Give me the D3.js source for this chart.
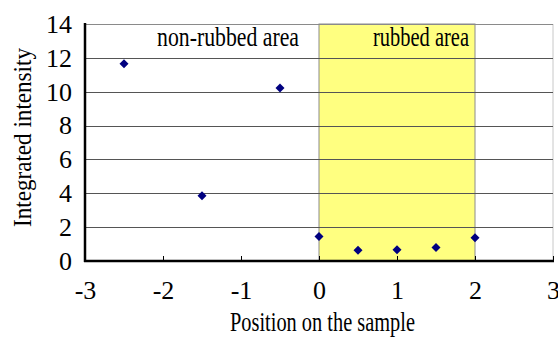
<!DOCTYPE html>
<html><head><meta charset="utf-8">
<script src="https://cdn.jsdelivr.net/npm/d3@7"></script>
<style>
html,body{margin:0;padding:0;background:#fff;}
svg text{font-family:"Liberation Serif","Times New Roman",serif;fill:#000;}
</style></head>
<body>
<svg id="chart" width="558" height="338"></svg>
<script>
const positions = [-2.5, -1.5, -0.5, 0, 0.5, 1, 1.5, 2];
const intensities = [11.65, 3.85, 10.22, 1.45, 0.63, 0.67, 0.8, 1.38];
const xTicks = [-3, -2, -1, 0, 1, 2, 3];
const yTicks = [0, 2, 4, 6, 8, 10, 12, 14];
const rubbedRange = [0, 2];
const regionLabels = ["non-rubbed area", "rubbed area"];

const svg = d3.select("#chart");
const m = {left: 85, right: 553, top: 24, bottom: 261};
const x = d3.scaleLinear().domain([-3, 3]).range([m.left, m.right]);
const y = d3.scaleLinear().domain([0, 14]).range([m.bottom, m.top]);
const fmt = d => String(d);

// right border of plot area
svg.append("line").attr("x1", m.right).attr("x2", m.right)
  .attr("y1", m.top).attr("y2", m.bottom).attr("stroke", "#c8c8c8").attr("stroke-width", 1);

// rubbed band
svg.append("rect")
  .attr("x", x(rubbedRange[0])).attr("y", y(14))
  .attr("width", x(rubbedRange[1]) - x(rubbedRange[0]))
  .attr("height", y(0) - y(14))
  .attr("fill", "#ffff80").attr("stroke", "#8c8c8c").attr("stroke-width", 1);

// gridlines
svg.append("g").selectAll("line").data(yTicks.filter(d => d > 0)).join("line")
  .attr("x1", m.left).attr("x2", m.right)
  .attr("y1", d => Math.round(y(d)) + 0.5).attr("y2", d => Math.round(y(d)) + 0.5)
  .attr("stroke", d => d === 14 ? "#8a8a8a" : "#555").attr("stroke-width", 1);

// x axis
const xAxis = svg.append("g").attr("transform", `translate(0,${m.bottom})`)
  .call(d3.axisBottom(x).tickValues(xTicks).tickFormat(fmt).tickSize(-5).tickPadding(20));
xAxis.select(".domain").remove();
xAxis.selectAll(".tick line").attr("stroke", "#000").attr("stroke-width", 1);
xAxis.selectAll("text").attr("font-size", 26).attr("font-family", "Liberation Serif");

// y axis
const yAxis = svg.append("g").attr("transform", `translate(${m.left},0)`)
  .call(d3.axisLeft(y).tickValues(yTicks).tickFormat(fmt).tickSize(0).tickPadding(13));
yAxis.select(".domain").remove();
yAxis.selectAll("text").attr("font-size", 26).attr("font-family", "Liberation Serif");

// axis lines
svg.append("line").attr("x1", m.left).attr("x2", m.left).attr("y1", m.top - 1).attr("y2", m.bottom + 1)
  .attr("stroke", "#000").attr("stroke-width", 2.5);
svg.append("line").attr("x1", m.left - 1).attr("x2", m.right + 1).attr("y1", m.bottom).attr("y2", m.bottom)
  .attr("stroke", "#000").attr("stroke-width", 2.5);

// points (diamonds)
const pts = positions.map((p, i) => [p, intensities[i]]);
svg.append("g").selectAll("path").data(pts).join("path")
  .attr("transform", d => `translate(${x(d[0])},${y(d[1])})`)
  .attr("d", "M0,-4.5L4.5,0L0,4.5L-4.5,0Z")
  .attr("fill", "#000080");

// region labels
svg.append("text").attr("x", 157).attr("y", 46).attr("font-size", 27)
  .attr("textLength", 142).attr("lengthAdjust", "spacingAndGlyphs").text(regionLabels[0]);
svg.append("text").attr("x", 373).attr("y", 46).attr("font-size", 27)
  .attr("textLength", 96).attr("lengthAdjust", "spacingAndGlyphs").text(regionLabels[1]);

// axis titles
svg.append("text").attr("x", 230).attr("y", 331).attr("font-size", 27)
  .attr("textLength", 185).attr("lengthAdjust", "spacingAndGlyphs").text("Position on the sample");
svg.append("text").attr("transform", "translate(31,227) rotate(-90)").attr("font-size", 26)
  .attr("textLength", 179).attr("lengthAdjust", "spacingAndGlyphs").text("Integrated intensity");
</script>
</body></html>
